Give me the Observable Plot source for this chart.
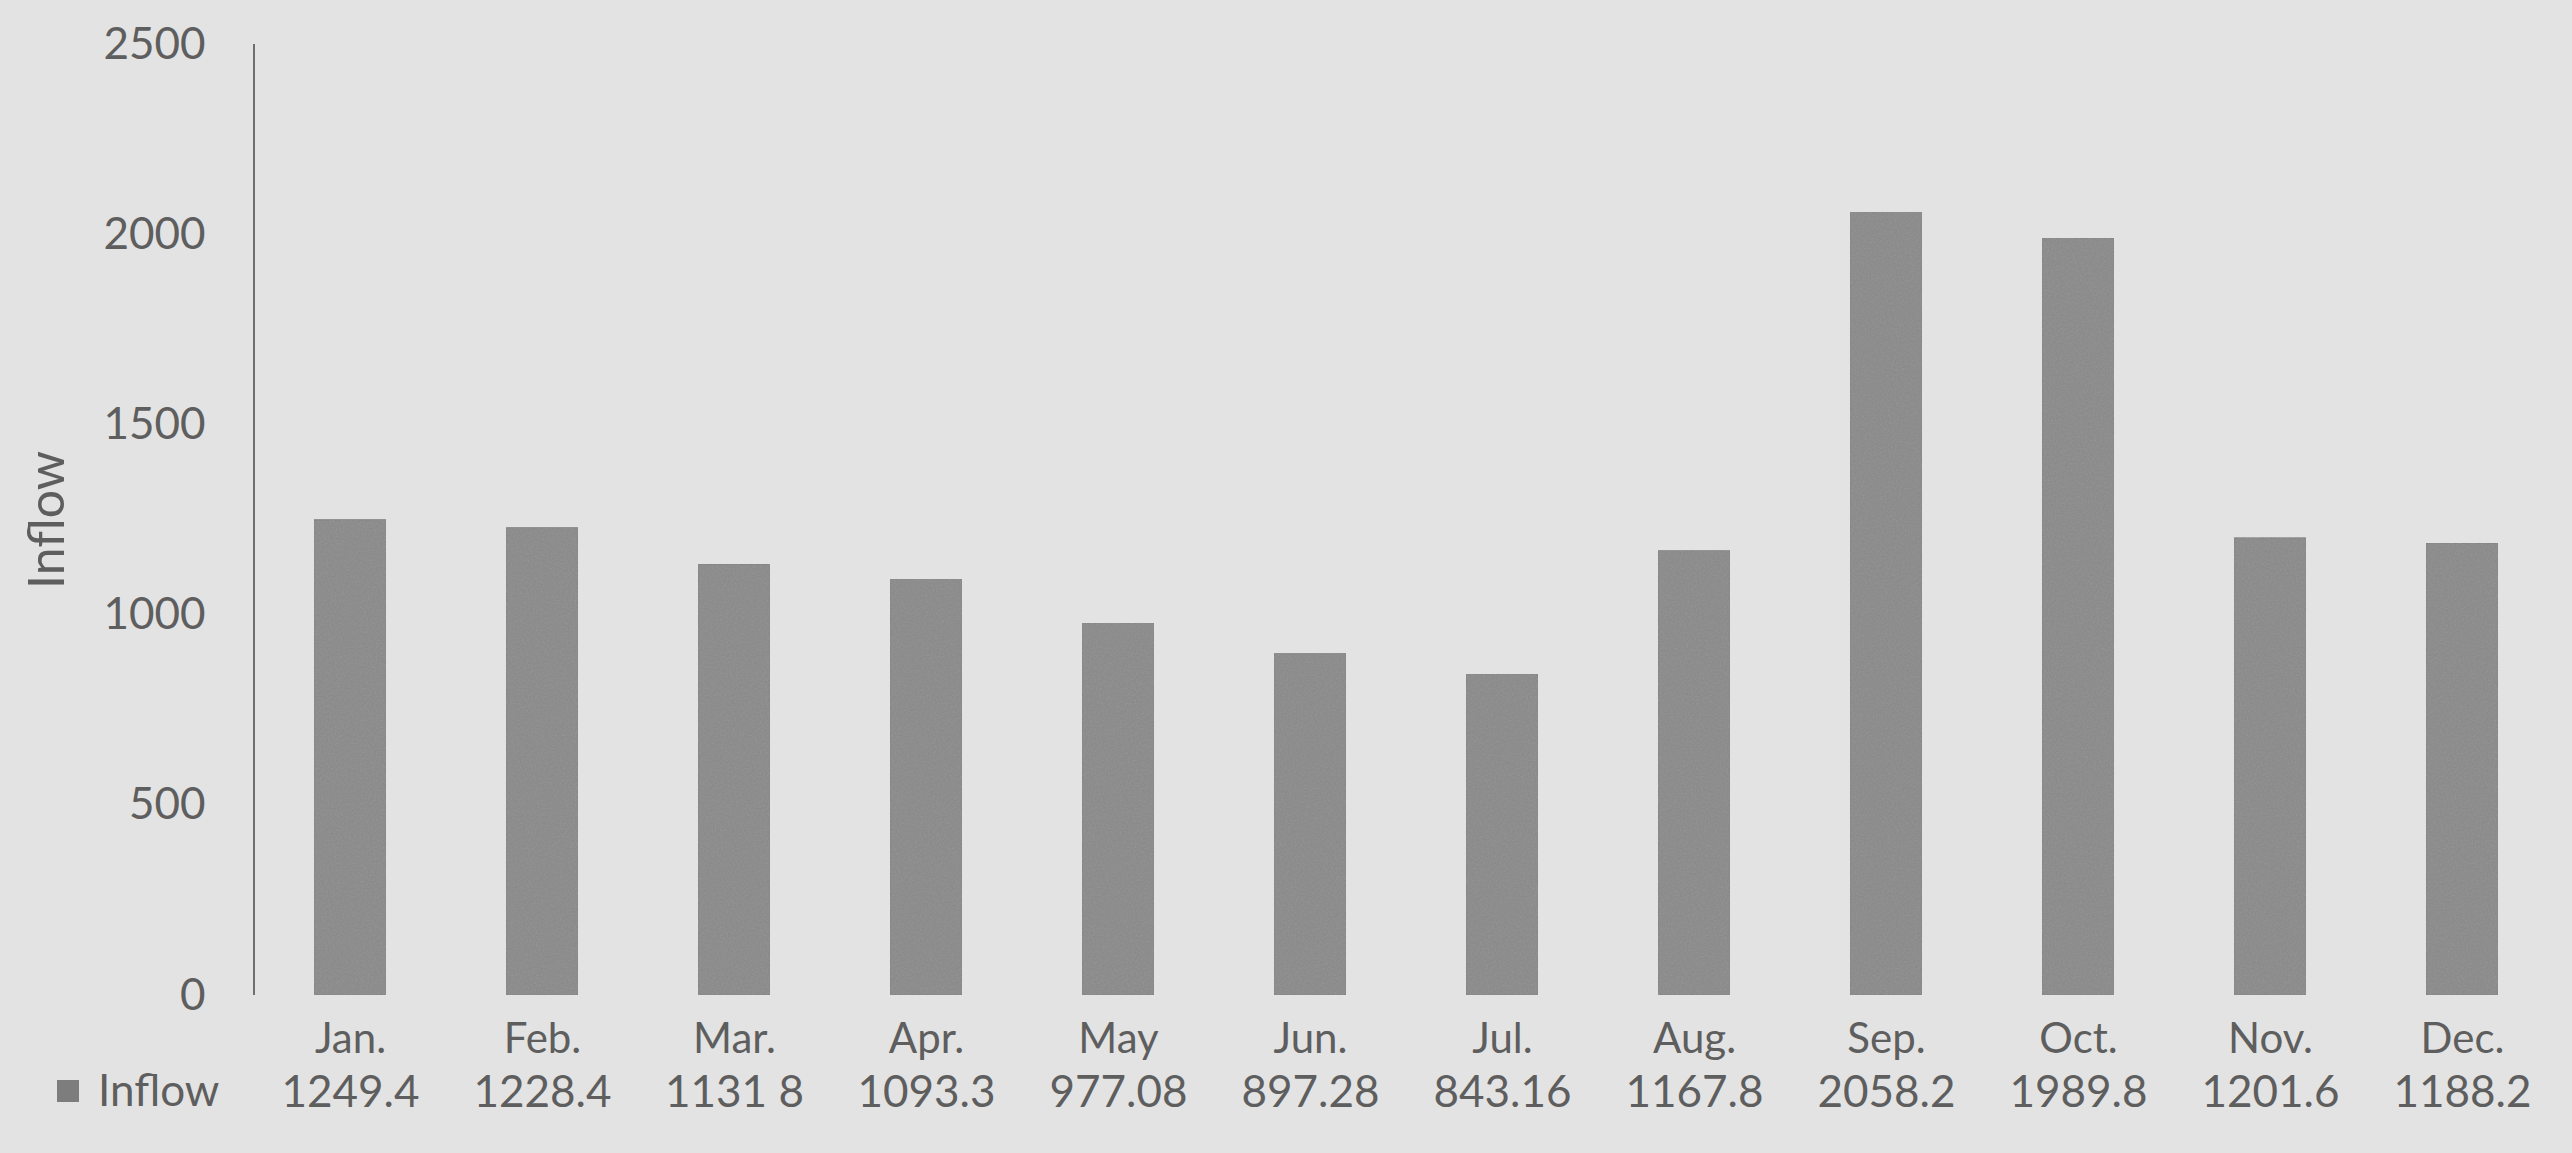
<!DOCTYPE html>
<html>
<head>
<meta charset="utf-8">
<script src="https://cdn.jsdelivr.net/npm/d3@7"></script>
<script src="https://cdn.jsdelivr.net/npm/@observablehq/plot@0.6"></script>
<style>
  html, body { margin: 0; padding: 0; background: #e3e3e3; }
  #chart svg { display: block; }
</style>
</head>
<body>
<div id="chart"></div>
<script>
const months = ["Jan.", "Feb.", "Mar.", "Apr.", "May", "Jun.", "Jul.", "Aug.", "Sep.", "Oct.", "Nov.", "Dec."];
const inflow = [1249.4, 1228.4, 1131.8, 1093.3, 977.08, 897.28, 843.16, 1167.8, 2058.2, 1989.8, 1201.6, 1188.2];
const inflowLabels = ["1249.4", "1228.4", "1131 8", "1093.3", "977.08", "897.28", "843.16", "1167.8", "2058.2", "1989.8", "1201.6", "1188.2"];
const yTicks = [0, 500, 1000, 1500, 2000, 2500];
const seriesName = "Inflow";

const data = months.map((m, i) => ({month: m, value: inflow[i], label: inflowLabels[i]}));
const labelOf = new Map(data.map(d => [d.month, d.label]));

const textColor = "#5e5e5e";
const font = "Lato, 'Open Sans', sans-serif";

const yAxisLine = (index, scales, values, dimensions) => {
  const g = d3.create("svg:g");
  g.append("line")
    .attr("x1", dimensions.marginLeft).attr("x2", dimensions.marginLeft)
    .attr("y1", scales.y(yTicks[yTicks.length - 1])).attr("y2", scales.y(yTicks[0]))
    .attr("stroke", "#6f6f6f").attr("stroke-width", 2);
  return g.node();
};

const legend = (index, scales, values, dimensions) => {
  const g = d3.create("svg:g").attr("font-family", font).attr("text-anchor", "start");
  const y = dimensions.height - dimensions.marginBottom + 96;
  g.append("rect").attr("x", 57).attr("y", y - 11).attr("width", 22).attr("height", 22).attr("fill", "#7d7d7d");
  g.append("text").attr("x", 98).attr("y", y).attr("dy", "0.35em")
    .attr("font-size", 44).attr("fill", textColor).text(seriesName);
  return g.node();
};

const chart = Plot.plot({
  width: 2572,
  height: 1153,
  marginLeft: 254,
  marginRight: 14,
  marginTop: 44,
  marginBottom: 158,
  style: {background: "#e3e3e3", fontFamily: font, color: textColor},
  x: {domain: months, paddingInner: 0.625, paddingOuter: 0.3125},
  y: {domain: [0, 2500]},
  marks: [
    Plot.barY(data, {x: "month", y: "value", fill: "#8b8b8b", stroke: "#828282", strokeWidth: 1}),
    yAxisLine,
    Plot.axisY({ticks: yTicks, tickFormat: d3.format("d"), tickSize: 0, tickPadding: 49, fontSize: 44, label: "Inflow", labelAnchor: "center", labelArrow: "none", labelOffset: 226, fill: textColor}),
    Plot.axisX({tickSize: 0, tickPadding: 28, fontSize: 42, label: null, fill: textColor}),
    Plot.axisX({tickSize: 0, tickPadding: 80, fontSize: 44, label: null, fill: textColor, tickFormat: m => labelOf.get(m)}),
    legend
  ]
});

// enlarge y-axis title
d3.select(chart).selectAll("g[aria-label='y-axis label'] text").attr("font-size", 50);

// texture for bars (deterministic noise filter)
const svg = d3.select(chart);
const defs = svg.insert("defs", ":first-child");
const f = defs.append("filter").attr("id", "grain").attr("filterUnits", "objectBoundingBox")
  .attr("x", 0).attr("y", 0).attr("width", 1).attr("height", 1);
f.append("feTurbulence").attr("type", "fractalNoise").attr("baseFrequency", 0.6).attr("numOctaves", 2).attr("seed", 3).attr("result", "noise");
f.append("feColorMatrix").attr("in", "noise").attr("type", "matrix")
  .attr("values", "0 0 0 0 0.3  0 0 0 0 0.3  0 0 0 0 0.3  0 0 0 1.6 -0.55").attr("result", "dark");
f.append("feComposite").attr("in", "dark").attr("in2", "SourceGraphic").attr("operator", "in").attr("result", "darkIn");
const merge = f.append("feMerge");
merge.append("feMergeNode").attr("in", "SourceGraphic");
merge.append("feMergeNode").attr("in", "darkIn");
svg.selectAll("g[aria-label='bar'] rect").attr("filter", "url(#grain)");

document.getElementById("chart").appendChild(chart);
</script>
</body>
</html>
